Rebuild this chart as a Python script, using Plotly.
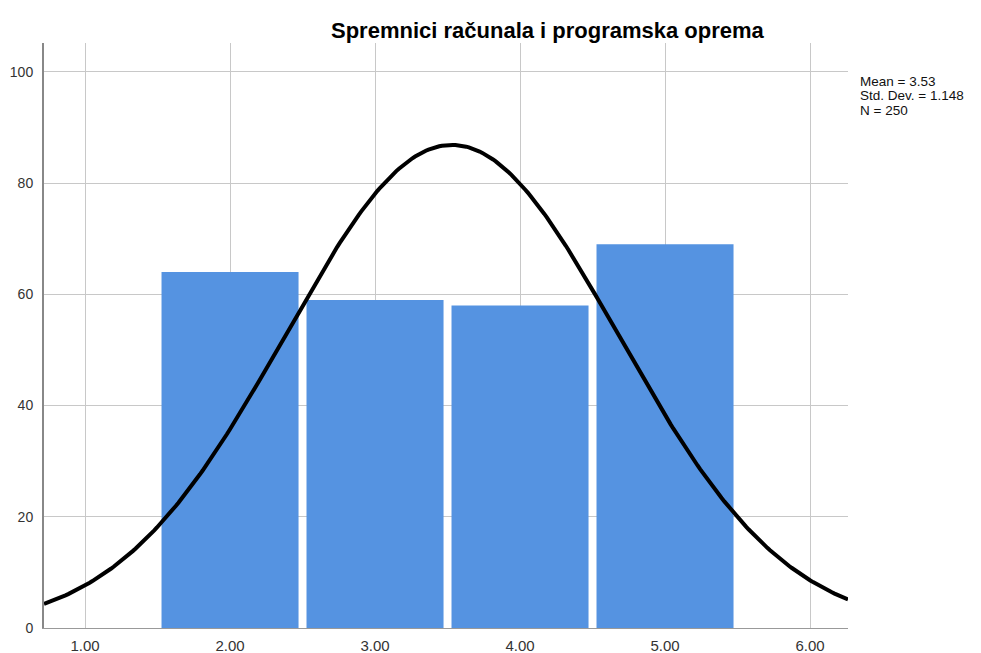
import numpy as np
import plotly.graph_objects as go

# Data
categories = [2.0, 3.0, 4.0, 5.0]
counts = [64, 59, 58, 69]
mean_val = 3.53
std_val = 1.148
n_val = 250
x_ticks = [1.0, 2.0, 3.0, 4.0, 5.0, 6.0]
x_tick_labels = ["1.00", "2.00", "3.00", "4.00", "5.00", "6.00"]
y_ticks = [0, 20, 40, 60, 80, 100]
title_text = "Spremnici računala i programska oprema"
stat_lines = ["Mean = %.2f" % mean_val, "Std. Dev. = %.3f" % std_val, "N = %d" % n_val]

# Normal curve defined by the reported statistics (bin width 1)
xc = np.linspace(0.717, 6.262, 300)
yc = n_val * 1.0 / (std_val * np.sqrt(2 * np.pi)) * np.exp(-0.5 * ((xc - mean_val) / std_val) ** 2)

fig = go.Figure()
fig.add_trace(go.Bar(
    x=categories, y=counts, width=0.945,
    marker=dict(color="#5593E1", line=dict(width=0)),
    hoverinfo="x+y",
))
fig.add_trace(go.Scatter(
    x=xc, y=yc, mode="lines",
    line=dict(color="black", width=4),
    hoverinfo="skip",
))

FONT = "Arial, Liberation Sans, sans-serif"
annotations = [
    dict(text="<b>" + title_text + "</b>", x=0.627, y=1.0, xref="paper", yref="paper",
         yshift=13, xanchor="center", yanchor="middle", showarrow=False,
         font=dict(size=22, color="black", family=FONT)),
]
for i, line in enumerate(stat_lines):
    annotations.append(dict(
        text=line, x=1.0, y=1.0, xref="paper", yref="paper",
        xshift=10, yshift=-(38 + 14.5 * i), xanchor="left", yanchor="middle",
        align="left", showarrow=False,
        font=dict(size=13.5, color="#111111", family=FONT)))

fig.update_layout(
    width=973, height=645,
    margin=dict(l=36, r=133, t=35, b=25, autoexpand=False),
    paper_bgcolor="white", plot_bgcolor="white",
    showlegend=False,
    font=dict(family=FONT, size=12, color="#333333"),
    xaxis=dict(
        range=[0.717, 6.262],
        tickvals=x_ticks, ticktext=x_tick_labels,
        showgrid=True, gridcolor="#c8c8c8", gridwidth=1,
        showline=True, linecolor="#999999", linewidth=1,
        zeroline=False, ticks="", ticklabelstandoff=4,
        tickfont=dict(size=15, color="#333333"),
    ),
    yaxis=dict(
        range=[0, 105.2],
        tickvals=y_ticks,
        showgrid=True, gridcolor="#c8c8c8", gridwidth=1,
        showline=True, linecolor="#888888", linewidth=2,
        zeroline=False, ticks="", ticklabelstandoff=6,
        tickfont=dict(size=14, color="#333333"),
    ),
    annotations=annotations,
)

fig.write_html("out.html")
